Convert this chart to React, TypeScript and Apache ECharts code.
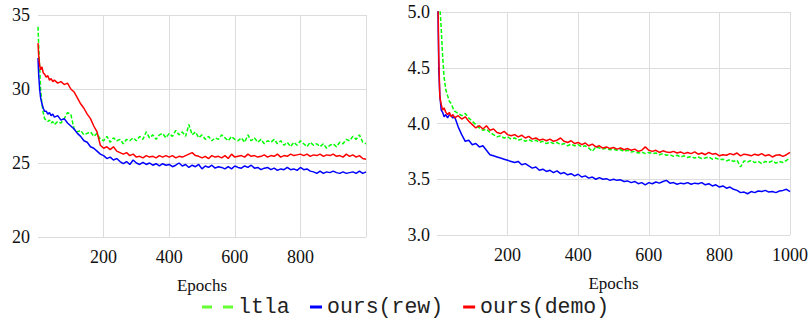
import React, { useEffect, useRef } from "react";
import * as echarts from "echarts";

const epochs = [0, 2, 5, 8, 12, 16, 20, 25, 30, 35, 40, 45, 50, 60, 70, 80, 90, 100, 110, 120, 130, 140, 150, 160, 170, 180, 190, 200,
  210, 220, 230, 240, 250, 260, 270, 280, 290, 300, 310, 320, 330, 340, 350, 360, 370, 380, 390, 400,
  410, 420, 430, 440, 450, 460, 470, 480, 490, 500, 510, 520, 530, 540, 550, 560, 570, 580, 590, 600,
  610, 620, 630, 640, 650, 660, 670, 680, 690, 700, 710, 720, 730, 740, 750, 760, 770, 780, 790, 800,
  810, 820, 830, 840, 850, 860, 870, 880, 890, 900, 910, 920, 930, 940, 950, 960, 970, 980, 990, 1000];

const leftRew = [32.1, 31.0, 30.0, 29.4, 29.0, 28.7, 28.5, 28.5, 28.3, 28.4, 28.2, 28.3, 28.1, 28.2, 27.9, 28.0, 27.7, 27.5, 27.3, 27.0, 26.8, 26.5, 26.4, 26.1, 26.0, 25.8, 25.6, 25.5,
  25.3, 25.4, 25.2, 25.3, 25.1, 24.95, 25.1, 24.9, 25.2, 25.0,
  24.9, 25.05, 24.9, 25.0, 24.85, 24.95, 24.8, 24.95, 24.85, 24.9,
  24.75, 24.85, 25.0, 24.8, 24.9, 24.7, 24.85, 24.75, 24.9, 24.6,
  24.8, 24.7, 24.85, 24.65, 24.75, 24.7, 24.6, 24.75, 24.6, 24.8,
  24.7, 24.65, 24.8, 24.7, 24.85, 24.65, 24.7, 24.55, 24.65, 24.7,
  24.55, 24.65, 24.5, 24.6, 24.55, 24.7, 24.55, 24.6, 24.5, 24.7,
  24.55, 24.6, 24.45, 24.4, 24.3, 24.45, 24.3, 24.4, 24.35, 24.45,
  24.35, 24.3, 24.4, 24.3, 24.35, 24.4, 24.3, 24.45, 24.3, 24.4];

const leftDemo = [33.1, 32.3, 31.6, 31.3, 31.5, 31.1, 31.0, 30.8, 30.9, 30.6, 30.7, 30.5, 30.6, 30.4, 30.5, 30.3, 30.4, 30.0, 29.8, 29.4, 29.0, 28.7, 28.3, 28.0, 27.5, 27.1, 26.2, 26.0,
  26.1, 25.9, 26.1, 25.8, 25.7, 25.6, 25.7, 25.5, 25.6, 25.4,
  25.45, 25.35, 25.5, 25.4, 25.45, 25.35, 25.5, 25.4, 25.5, 25.4,
  25.5, 25.35, 25.45, 25.4, 25.5, 25.6, 25.7, 25.5, 25.45, 25.35,
  25.45, 25.3, 25.5, 25.4, 25.45, 25.35, 25.5, 25.3, 25.6, 25.4,
  25.45, 25.5, 25.4, 25.6, 25.45, 25.5, 25.4, 25.45, 25.55, 25.4,
  25.5, 25.45, 25.6, 25.4, 25.5, 25.45, 25.6, 25.5, 25.55, 25.6,
  25.5, 25.6, 25.45, 25.55, 25.5, 25.6, 25.45, 25.55, 25.5, 25.6,
  25.45, 25.5, 25.4, 25.6, 25.45, 25.55, 25.4, 25.5, 25.3, 25.25];

const leftLtla = [34.2, 33.0, 31.5, 30.0, 29.0, 28.4, 28.0, 27.9, 27.8, 27.9, 27.7, 27.8, 27.6, 27.8, 27.7, 28.0, 28.4, 28.3, 27.3, 27.1, 27.2, 26.9, 27.0, 27.1, 26.8, 27.0, 26.6, 26.5,
  26.8, 26.4, 26.7, 26.5, 26.6, 26.3, 26.6, 26.5, 26.7, 26.5,
  26.8, 26.6, 27.1, 26.7, 26.9, 26.6, 26.9, 27.0, 26.7, 27.0,
  26.8, 27.2, 26.9, 27.1, 26.8, 27.6, 26.9, 27.1, 26.7, 26.9,
  26.6, 26.8, 26.5, 26.7, 26.6, 26.9, 26.7, 26.5, 26.8, 26.6,
  26.5, 26.7, 26.4, 26.9, 26.5, 26.7, 26.4, 26.6, 26.3, 26.5,
  26.4, 26.6, 26.3, 26.5, 26.2, 26.4, 26.1, 26.4, 26.2, 26.5,
  26.3, 26.1, 26.4, 26.2, 26.3, 26.1, 26.3, 26.0, 26.2, 26.3,
  26.1, 26.4, 26.3, 26.6, 26.5, 26.8, 26.6, 26.9, 26.4, 26.3];

const rightRew = [6.5, 5.2, 4.5, 4.25, 4.12, 4.1, 4.06, 4.08, 4.05, 4.08, 4.07, 4.05, 4.06, 3.97, 3.9, 3.84, 3.85, 3.81, 3.82, 3.79, 3.8, 3.76, 3.72, 3.71, 3.7, 3.69, 3.68, 3.67,
  3.66, 3.65, 3.66, 3.63, 3.64, 3.62, 3.6, 3.61, 3.58, 3.59,
  3.57, 3.58, 3.56, 3.575, 3.55, 3.56, 3.54, 3.55, 3.53, 3.545,
  3.52, 3.53, 3.51, 3.52, 3.5, 3.515, 3.5, 3.505, 3.49, 3.5,
  3.49, 3.495, 3.48, 3.485, 3.47, 3.48, 3.46, 3.47, 3.45, 3.47,
  3.46, 3.475, 3.465, 3.48, 3.49, 3.465, 3.47, 3.455, 3.465, 3.46,
  3.47, 3.455, 3.465, 3.46, 3.47, 3.45, 3.46, 3.44, 3.45, 3.43,
  3.44, 3.42, 3.43, 3.41, 3.4, 3.38, 3.385, 3.37, 3.39, 3.38,
  3.395, 3.39, 3.4, 3.385, 3.39, 3.38, 3.395, 3.4, 3.41, 3.39];

const rightDemo = [6.5, 5.3, 4.6, 4.24, 4.17, 4.12, 4.14, 4.1, 4.08, 4.1, 4.06, 4.08, 4.05, 4.07, 4.04, 4.06, 4.02, 3.99, 3.96, 3.98, 3.95, 3.98, 3.94, 3.95, 3.92, 3.91, 3.93, 3.9,
  3.89, 3.9, 3.88, 3.895, 3.87, 3.885, 3.86, 3.87, 3.85, 3.86,
  3.845, 3.86, 3.84, 3.85, 3.87, 3.84, 3.83, 3.845, 3.82, 3.83,
  3.81, 3.825, 3.8, 3.815, 3.79, 3.8, 3.78, 3.79, 3.775, 3.785,
  3.77, 3.78, 3.765, 3.775, 3.76, 3.77, 3.75, 3.76, 3.79, 3.76,
  3.75, 3.76, 3.74, 3.755, 3.745, 3.74, 3.75, 3.735, 3.745, 3.73,
  3.74, 3.73, 3.745, 3.725, 3.735, 3.72, 3.74, 3.725, 3.73, 3.71,
  3.72, 3.715, 3.73, 3.72, 3.735, 3.71, 3.725, 3.72, 3.71, 3.725,
  3.715, 3.73, 3.71, 3.72, 3.7, 3.715, 3.72, 3.705, 3.72, 3.74];

const rightLtla = [7.0, 6.5, 5.6, 5.05, 4.85, 4.6, 4.42, 4.3, 4.25, 4.2, 4.18, 4.14, 4.11, 4.09, 4.07, 4.09, 4.05, 4.02, 3.99, 3.96, 3.94, 3.95, 3.92, 3.9, 3.88, 3.89, 3.87, 3.88,
  3.86, 3.87, 3.85, 3.86, 3.84, 3.855, 3.84, 3.85, 3.83, 3.84,
  3.82, 3.835, 3.82, 3.83, 3.81, 3.82, 3.8, 3.815, 3.8, 3.81,
  3.79, 3.8, 3.78, 3.75, 3.79, 3.78, 3.77, 3.78, 3.765, 3.77,
  3.76, 3.765, 3.75, 3.76, 3.745, 3.75, 3.735, 3.745, 3.73, 3.74,
  3.73, 3.735, 3.72, 3.73, 3.715, 3.72, 3.705, 3.715, 3.7, 3.71,
  3.695, 3.705, 3.69, 3.7, 3.685, 3.69, 3.7, 3.68, 3.69, 3.675,
  3.68, 3.665, 3.675, 3.66, 3.67, 3.61, 3.665, 3.655, 3.67, 3.65,
  3.66, 3.64, 3.66, 3.65, 3.665, 3.645, 3.66, 3.65, 3.67, 3.69];

const seriesNames = ["ltla", "ours(rew)", "ours(demo)"];
const seriesColors = ["#00ff00", "#0000ff", "#ff0000"];
const xAxisName = "Epochs";

const pair = (vals: number[]) => epochs.map((e, i) => [e, vals[i]]);

export default function App() {
  const ref = useRef<HTMLDivElement>(null);
  useEffect(() => {
    document.body.style.margin = "0";
    const chart = echarts.init(ref.current!, null, { renderer: "svg" });
    const gridColor = "#dcdcdc";
    const tickFont = { fontFamily: "Liberation Serif", fontSize: 18, color: "#111" };
    const xAxisCommon = {
      type: "value" as const,
      min: 0,
      max: 1000,
      interval: 200,
      name: xAxisName,
      nameLocation: "middle" as const,
      nameGap: 40,
      nameTextStyle: { fontFamily: "Liberation Serif", fontSize: 17, color: "#111" },
      axisLine: { show: false },
      axisTick: { show: false },
      splitLine: { show: true, showMinLine: false, lineStyle: { color: gridColor, width: 1 } },
    };
    const yAxisCommon = {
      type: "value" as const,
      axisLine: { show: false },
      axisTick: { show: false },
      splitLine: { show: true, lineStyle: { color: gridColor, width: 1 } },
    };
    const mk = (name: string, idx: number, vals: number[], ci: number) => ({
      name,
      type: "line",
      xAxisIndex: idx,
      yAxisIndex: idx,
      data: pair(vals),
      symbol: "none",
      clip: true,
      lineStyle: {
        color: seriesColors[ci],
        width: 1.5,
        type: ci === 0 ? [4, 2] : "solid",
      },
      itemStyle: { color: seriesColors[ci] },
    });
    const legendText = { fontFamily: "Liberation Mono", fontSize: 21.5, lineHeight: 20, color: "#222" };
    chart.setOption({
      animation: false,
      grid: [
        { left: 38, top: 15, right: 446, bottom: 81 },
        { left: 437, top: 12, right: 22, bottom: 83 },
      ],
      xAxis: [
        {
          ...xAxisCommon,
          gridIndex: 0,
          axisLabel: {
            ...tickFont,
            margin: 11,
            formatter: (v: number) => (v === 0 || v === 1000 ? "" : String(v)),
          },
        },
        {
          ...xAxisCommon,
          gridIndex: 1,
          axisLabel: {
            ...tickFont,
            margin: 11,
            formatter: (v: number) => (v === 0 ? "" : String(v)),
          },
        },
      ],
      yAxis: [
        {
          ...yAxisCommon,
          gridIndex: 0,
          min: 20,
          max: 35,
          interval: 5,
          axisLabel: { ...tickFont, margin: 8 },
        },
        {
          ...yAxisCommon,
          gridIndex: 1,
          min: 3,
          max: 5,
          interval: 0.5,
          axisLabel: { ...tickFont, margin: 7, formatter: (v: number) => v.toFixed(1) },
        },
      ],
      legend: [
        {
          data: [seriesNames[0]],
          left: 202,
          top: 296,
          padding: 0,
          icon: "path://M0,0h10v3h-10z M21,0h10v3h-10z",
          itemWidth: 31,
          itemHeight: 3,
          textStyle: legendText,
          itemStyle: { color: "#66ff33" },
        },
        {
          data: [seriesNames[1], seriesNames[2]],
          left: 310,
          top: 296,
          padding: 0,
          icon: "rect",
          itemWidth: 12,
          itemHeight: 3,
          itemGap: 20,
          textStyle: legendText,
        },
      ],
      series: [
        mk(seriesNames[0], 0, leftLtla, 0),
        mk(seriesNames[1], 0, leftRew, 1),
        mk(seriesNames[2], 0, leftDemo, 2),
        mk(seriesNames[0], 1, rightLtla, 0),
        mk(seriesNames[1], 1, rightRew, 1),
        mk(seriesNames[2], 1, rightDemo, 2),
      ],
    });
    return () => chart.dispose();
  }, []);
  return <div ref={ref} style={{ width: 812, height: 318 }} />;
}
